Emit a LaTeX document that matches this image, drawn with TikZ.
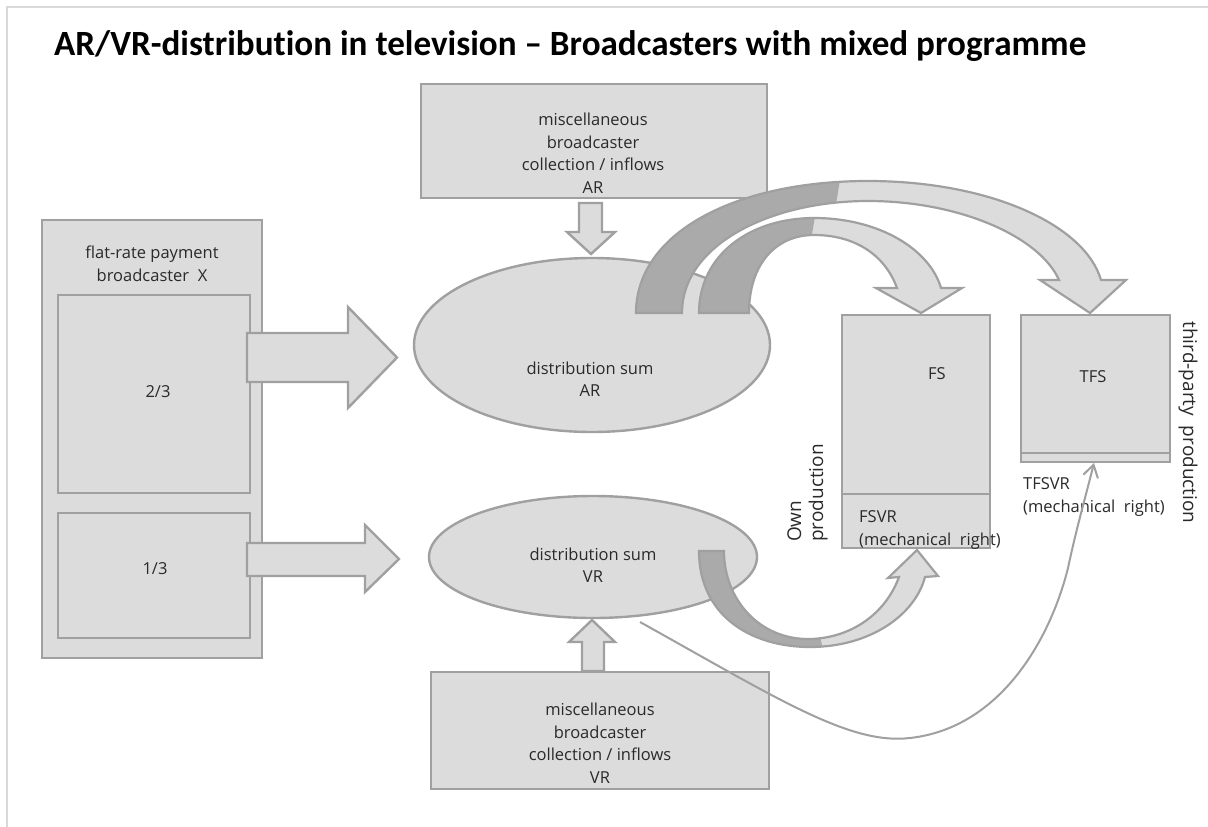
\documentclass[tikz,border=0pt]{standalone}
\usepackage{fontspec}
\usepackage{graphicx}
\setmainfont{Open Sans}
\newfontfamily\titlefont[Ligatures=NoCommon]{Carlito}
\usetikzlibrary{shapes.geometric,arrows.meta}
\definecolor{boxfill}{HTML}{DCDCDC}
\definecolor{bord}{HTML}{A0A0A0}
\definecolor{darkarc}{HTML}{AAAAAA}
\definecolor{txtc}{HTML}{2A2A2A}
\definecolor{framec}{HTML}{D9D9D9}
\begin{document}
\begin{tikzpicture}[x=1pt,y=-1pt,line join=miter,
  shp/.style={draw=bord,fill=boxfill,line width=2.4pt,inner sep=0pt,outer sep=0pt},
  lbl/.style={text=txtc,font=\fontsize{16.5}{22.5}\selectfont,align=center,inner sep=0pt},
  lbll/.style={text=txtc,font=\fontsize{16.5}{22.5}\selectfont,align=left,inner sep=0pt},
  side/.style={text=txtc,font=\fontsize{19}{22}\selectfont,align=left,inner sep=0pt},
  band/.style={draw=bord,line width=2.2pt},
]
\useasboundingbox (0,0) rectangle (1208,827);
\fill[white] (0,0) rectangle (1208,827);
\draw[framec,line width=2pt] (7,827) -- (7,7) -- (1208,7);

% title
\node[anchor=base west,inner sep=0pt,text=black] (title) at (54,56)
  {\resizebox{1032pt}{\height}{\titlefont\bfseries\fontsize{35.5}{40}\selectfont AR/VR-distribution in television – Broadcasters with mixed programme}};

% left box
\node[shp,minimum width=220,minimum height=438] (flat) at (152,439) {};
\node[shp,minimum width=192,minimum height=198] (p23) at (154,394) {};
\node[shp,minimum width=192,minimum height=125] (p13) at (154,575.5) {};
\node[lbl] (flattxt) at (152,264) {flat-rate payment\\broadcaster\ \ X};
\node[lbl] (t23) at (158,392) {2/3};
\node[lbl] (t13) at (155,569) {1/3};

% top and bottom boxes
\node[shp,minimum width=346,minimum height=114] (misAR) at (594,141) {};
\node[lbl] (misARt) at (593,153) {miscellaneous\\broadcaster\\collection / inflows\\AR};
\node[shp,minimum width=338,minimum height=117] (misVR) at (600,730.5) {};
\node[lbl] (misVRt) at (600,743) {miscellaneous\\broadcaster\\collection / inflows\\VR};

% ellipses
\node[shp,ellipse,minimum width=356,minimum height=174] (sumAR) at (592,345) {};
\node[lbl] (sumARt) at (590,379) {distribution sum\\AR};
\node[shp,ellipse,minimum width=328,minimum height=122] (sumVR) at (593,557) {};
\node[lbl] (sumVRt) at (593,565) {distribution sum\\VR};

% FS and TFS boxes
\node[shp,minimum width=148,minimum height=233] (fs) at (916,431.5) {};
\draw[bord,line width=1.6pt] (fs.west |- 0,494) -- (fs.east |- 0,494);
\node[shp,minimum width=149,minimum height=147] (tfs) at (1095.5,388.5) {};
\draw[bord,line width=1.6pt] (tfs.west |- 0,453) -- (tfs.east |- 0,453);
\node[lbl] (fst) at (937,374) {FS};
\node[lbl] (tfst) at (1093,377) {TFS};
\node[lbll,anchor=west] (fsvr) at (859,530) {FSVR\\(mechanical\ \ right)};
\node[lbll,anchor=west] (tfsvr) at (1023,497) {TFSVR\\(mechanical\ \ right)};
\node[side,rotate=90,anchor=south west] (own) at (828,542) {Own\\production};
\node[side,rotate=-90] (third) at (1188,422.5) {third-party\ \ production};

% block arrows
\draw[shp] (247,333) -- (348,333) -- (348,307) -- (397,357.5) -- (348,408) -- (348,382) -- (247,382) -- cycle;
\draw[shp] (247,543) -- (365,543) -- (365,525) -- (399,559) -- (365,592) -- (365,576) -- (247,576) -- cycle;
\draw[shp] (579,203) -- (602,203) -- (602,232) -- (615,232) -- (591,254) -- (567,232) -- (579,232) -- cycle;
\draw[shp] (582,671) -- (604,671) -- (604,642) -- (615,642) -- (592,620) -- (569,642) -- (582,642) -- cycle;

% curved arrow AR -> TFS
\fill[boxfill] (636,313) .. controls (636,233) and (735,181) .. (868,181) .. controls (990,181) and (1085,225) .. (1101,280) -- (1126,280) -- (1090,313) -- (1040,280) -- (1059,280) .. controls (1040,237) and (960,201) .. (868,201) .. controls (770,201) and (682,245) .. (682,313) -- cycle;
\begin{scope}
\clip (600,150) -- (845,150) -- (815,330) -- (600,330) -- cycle;
\fill[darkarc] (636,313) .. controls (636,233) and (735,181) .. (868,181) .. controls (990,181) and (1085,225) .. (1101,280) -- (1126,280) -- (1090,313) -- (1040,280) -- (1059,280) .. controls (1040,237) and (960,201) .. (868,201) .. controls (770,201) and (682,245) .. (682,313) -- cycle;
\end{scope}
\draw[band] (636,313) .. controls (636,233) and (735,181) .. (868,181) .. controls (990,181) and (1085,225) .. (1101,280) -- (1126,280) -- (1090,313) -- (1040,280) -- (1059,280) .. controls (1040,237) and (960,201) .. (868,201) .. controls (770,201) and (682,245) .. (682,313) -- cycle;

% curved arrow AR -> FS
\fill[boxfill] (699,313) .. controls (699,255) and (750,218) .. (814,218) .. controls (880,218) and (930,250) .. (941,288) -- (962,288) -- (921,313) -- (876,288) -- (897,288) .. controls (885,255) and (855,235) .. (814,235) .. controls (775,235) and (749,265) .. (749,313) -- cycle;
\begin{scope}
\clip (690,200) -- (818,200) -- (795,330) -- (690,330) -- cycle;
\fill[darkarc] (699,313) .. controls (699,255) and (750,218) .. (814,218) .. controls (880,218) and (930,250) .. (941,288) -- (962,288) -- (921,313) -- (876,288) -- (897,288) .. controls (885,255) and (855,235) .. (814,235) .. controls (775,235) and (749,265) .. (749,313) -- cycle;
\end{scope}
\draw[band] (699,313) .. controls (699,255) and (750,218) .. (814,218) .. controls (880,218) and (930,250) .. (941,288) -- (962,288) -- (921,313) -- (876,288) -- (897,288) .. controls (885,255) and (855,235) .. (814,235) .. controls (775,235) and (749,265) .. (749,313) -- cycle;

% curved arrow VR -> FS
\fill[boxfill] (699,551) .. controls (699,615) and (750,647) .. (810,647) .. controls (870,647) and (915,615) .. (925,577) -- (938,576) -- (917,550) -- (888,578) -- (899,577) .. controls (885,615) and (850,638) .. (810,639) .. controls (760,640) and (724,600) .. (724,551) -- cycle;
\begin{scope}
\clip (690,540) -- (800,540) -- (825,660) -- (690,660) -- cycle;
\fill[darkarc] (699,551) .. controls (699,615) and (750,647) .. (810,647) .. controls (870,647) and (915,615) .. (925,577) -- (938,576) -- (917,550) -- (888,578) -- (899,577) .. controls (885,615) and (850,638) .. (810,639) .. controls (760,640) and (724,600) .. (724,551) -- cycle;
\end{scope}
\draw[band] (699,551) .. controls (699,615) and (750,647) .. (810,647) .. controls (870,647) and (915,615) .. (925,577) -- (938,576) -- (917,550) -- (888,578) -- (899,577) .. controls (885,615) and (850,638) .. (810,639) .. controls (760,640) and (724,600) .. (724,551) -- cycle;

% thin arrow VR -> TFS
\coordinate (vrout) at (640,622);
\coordinate (tfsin) at (1094,463);
\draw[bord,line width=2pt,-{Straight Barb[length=12pt,width=15pt]}] (vrout) .. controls (780,700) and (850,745) .. (910,738) .. controls (1000,728) and (1050,640) .. (1068,568) .. controls (1076,530) and (1086,495) .. (tfsin);
\end{tikzpicture}
\end{document}
